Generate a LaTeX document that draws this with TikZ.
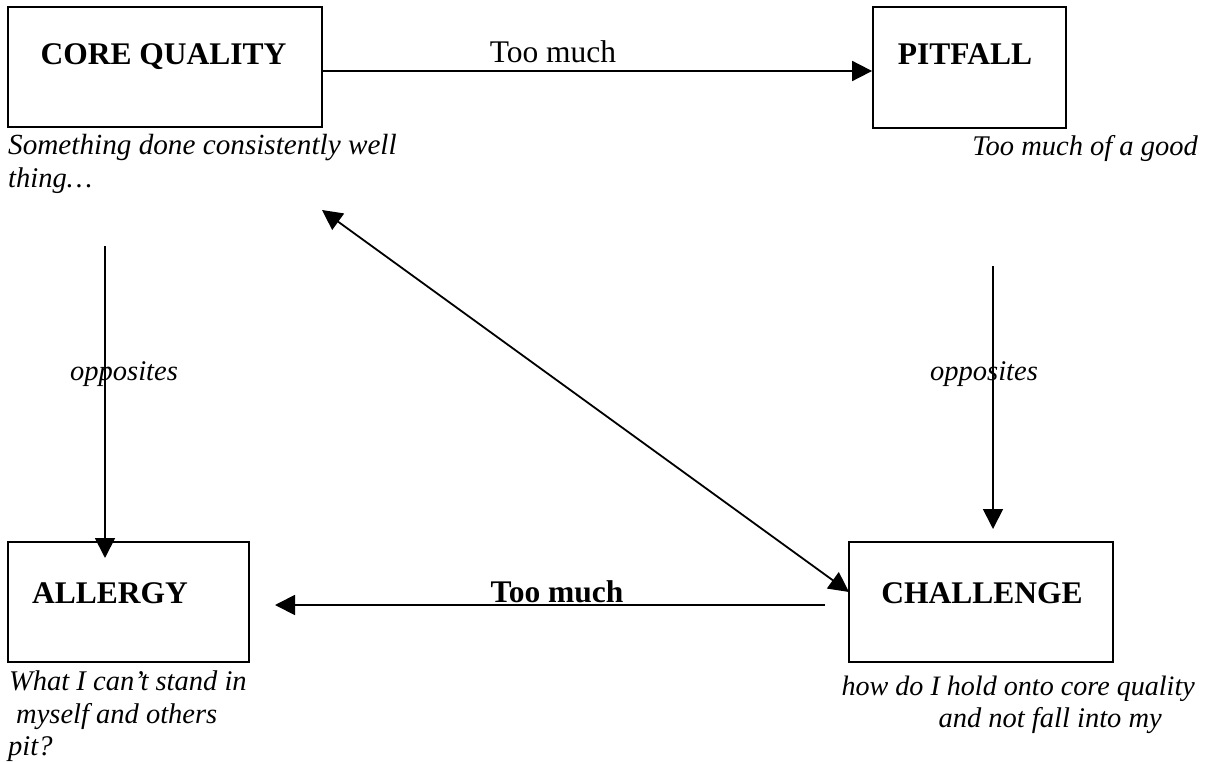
\documentclass[tikz,border=0pt]{standalone}
\usepackage{fontspec}
\setmainfont{Liberation Serif}
\usetikzlibrary{arrows.meta}
\begin{document}
\begin{tikzpicture}[x=1pt,y=-1pt,
  box/.style={draw, line width=1.8pt, inner sep=0pt},
  head/.style={inner sep=0pt, anchor=base, font=\fontsize{31.5}{36}\selectfont\bfseries},
  lbl/.style={inner sep=0pt, anchor=base, font=\fontsize{31.5}{36}\selectfont},
  blbl/.style={inner sep=0pt, anchor=base, font=\fontsize{31.5}{36}\selectfont\bfseries},
  note/.style={inner sep=0pt, font=\fontsize{28.5}{33}\selectfont\itshape},
  arr/.style={line width=1.8pt, -{Triangle[length=20pt,width=20pt]}},
  darr/.style={line width=1.8pt, {Triangle[length=20pt,width=20pt]}-{Triangle[length=20pt,width=20pt]}}]
\useasboundingbox (0,0) rectangle (1218,762);
% boxes
\node[box, minimum width=314pt, minimum height=120pt] (cq) at (165,67) {};
\node[box, minimum width=193pt, minimum height=121pt] (pf) at (969.5,67.5) {};
\node[box, minimum width=241pt, minimum height=120pt] (al) at (128.5,602) {};
\node[box, minimum width=264pt, minimum height=120pt] (ch) at (981,602) {};
% headings
\node[head] (cqt) at (163.5,65) {CORE QUALITY};
\node[head] (pft) at (965,65) {PITFALL};
\node[head] (alt) at (110,603) {ALLERGY};
\node[head] (cht) at (982,603) {CHALLENGE};
% notes
\node[note, anchor=base west, font=\fontsize{29.2}{33}\selectfont\itshape] (n1) at (8,155) {Something done consistently well};
\node[note, anchor=base west] (n2) at (8,188) {thing\ldots};
\node[note, anchor=base east] (n3) at (1198,156) {Too much of a good};
\node[note, anchor=base west] (n4) at (9,690) {What I can’t stand in};
\node[note, anchor=base west] (n5) at (16,723) {myself and others};
\node[note, anchor=base west] (n6) at (8,755) {pit?};
\node[note, anchor=base east, font=\fontsize{28.1}{33}\selectfont\itshape] (n7) at (1195,695) {how do I hold onto core quality};
\node[note, anchor=base east] (n8) at (1162,727) {and not fall into my};
% connectors
\coordinate (a1) at (322,71);
\draw[arr] (a1) -- (a1 -| pf.west);
\node[lbl] (tm1) at (553,63) {Too much};
\coordinate (d1) at (322,210);
\coordinate (d2) at (849,592);
\draw[darr] (d1) -- (d2);
\coordinate (v1) at (105,246);
\coordinate (v1e) at (105,558);
\draw[arr] (v1) -- (v1e);
\node[note, anchor=base] (op1) at (124,380) {opposites};
\coordinate (v2) at (993,266);
\coordinate (v2e) at (993,529);
\draw[arr] (v2) -- (v2e);
\node[note, anchor=base] (op2) at (984,380) {opposites};
\coordinate (h1) at (825,605);
\coordinate (h1e) at (275,605);
\draw[arr] (h1) -- (h1e);
\node[blbl] (tm2) at (557,602) {Too much};
\end{tikzpicture}
\end{document}
